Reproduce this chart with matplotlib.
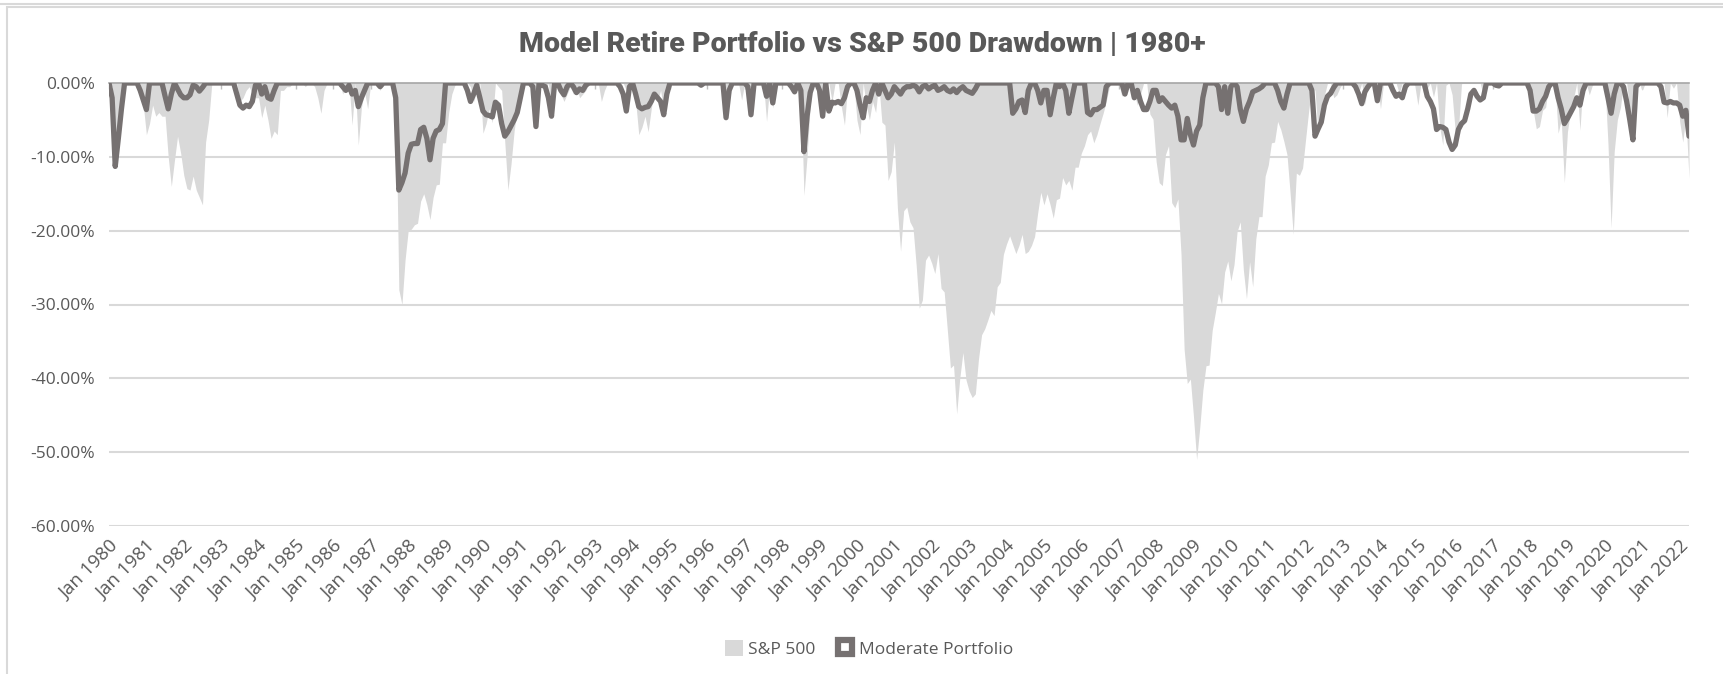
import numpy as np
import matplotlib
matplotlib.use("Agg")
from matplotlib import pyplot as plt
from matplotlib.lines import Line2D
from matplotlib.patches import Patch, Rectangle

# monthly drawdowns (%), Jan 1980 .. Apr 2022, one row per year
sp500_dd = [
    0, -0.5, -10.0, -6.5, -2.5, 0, 0, 0, 0, 0, 0, -3.0,                       # 1980
    -7.0, -5.5, -3.0, -4.5, -4.0, -4.5, -4.5, -10.0, -14.0, -10.5, -7.2, -9.5,  # 1981
    -12.5, -14.3, -14.5, -12.6, -14.5, -15.5, -16.5, -8.0, -5.0, 0, 0, 0,      # 1982
    0, 0, 0, 0, 0, 0, -2.5, -2.0, -1.0, -0.5, -1.5, -2.0,                      # 1983
    -2.0, -4.7, -3.0, -5.0, -7.5, -6.5, -7.0, -1.0, -1.0, -0.5, -0.5, 0,       # 1984
    0, 0, 0, -0.5, 0, 0, -0.5, -2.0, -4.1, -1.0, 0, 0,                         # 1985
    0, 0, 0, -1.5, 0, 0, -5.7, 0, -8.4, -3.3, -1.2, -3.5,                      # 1986
    0, 0, 0, -1.0, 0, 0, 0, 0, -1.5, -28.0, -30.0, -24.0,                      # 1987
    -20.0, -19.8, -19.2, -19.0, -16.0, -15.0, -16.5, -18.5, -15.5, -13.8, -13.7, -8.1,  # 1988
    -8.1, -4.0, -1.5, -0.3, 0, 0, 0, 0, -0.5, -2.5, -1.0, 0,                   # 1989
    -6.8, -5.5, -3.5, -5.4, 0, -0.5, -1.0, -8.0, -14.5, -11.0, -6.5, -3.5,     # 1990
    -1.0, 0, 0, 0, 0, -4.5, 0, 0, -1.0, 0, -4.0, 0,                            # 1991
    0, -1.5, -2.5, -1.5, -0.5, -1.5, -0.5, -2.0, -1.5, -1.0, 0, 0,             # 1992
    0, 0, -2.5, -1.0, 0, 0, 0, 0, 0, 0, -1.0, 0,                               # 1993
    0, -2.5, -7.0, -6.0, -4.5, -6.6, -3.5, -1.0, -2.5, -1.0, -3.5, -2.5,       # 1994
    0, 0, 0, 0, 0, 0, 0, 0, 0, 0, 0, 0,                                        # 1995
    0, 0, 0, 0, 0, -1.0, -4.7, -2.5, 0, 0, 0, -2.3,                            # 1996
    0, -0.5, -4.3, 0, 0, 0, 0, -5.2, -0.5, -3.4, 0, 0,                         # 1997
    0, 0, 0, 0, -1.5, 0, -1.0, -15.2, -10.0, -3.0, 0, 0,                       # 1998
    0, -3.0, 0, 0, -2.5, 0, 0, -3.2, -5.7, -0.5, 0, 0,                         # 1999
    -5.0, -7.0, 0, -3.0, -5.0, -2.5, -4.0, 0, -5.3, -5.7, -13.2, -12.0,        # 2000
    -8.0, -17.0, -22.8, -17.3, -16.8, -18.8, -19.6, -24.6, -30.5, -29.4, -24.0, -23.3,  # 2001
    -24.4, -25.8, -23.1, -27.8, -28.3, -33.4, -38.6, -38.2, -44.8, -40.0, -36.5, -40.2,  # 2002
    -41.7, -42.6, -42.1, -37.4, -34.1, -33.3, -32.1, -30.8, -31.5, -27.6, -27.0, -23.2,  # 2003
    -21.8, -20.7, -21.9, -23.1, -22.0, -20.5, -23.1, -22.8, -22.0, -20.8, -17.6, -14.8,  # 2004
    -16.5, -15.0, -16.5, -18.3, -15.8, -15.6, -12.8, -13.8, -13.2, -14.5, -11.4, -11.4,  # 2005
    -9.5, -8.5, -7.0, -6.5, -8.1, -7.0, -5.5, -4.1, -2.5, -0.5, 0, 0,          # 2006
    0, -1.8, -0.8, 0, 0, -1.5, -3.0, -1.5, 0, 0, -4.2, -4.9,                   # 2007
    -10.6, -13.5, -13.9, -9.7, -8.5, -16.2, -16.9, -15.7, -23.2, -36.1, -40.7, -40.1,  # 2008
    -45.2, -51.0, -46.7, -41.6, -38.3, -38.2, -33.5, -31.1, -28.5, -29.9, -25.6, -24.1,  # 2009
    -26.8, -24.6, -20.1, -18.8, -25.3, -29.2, -24.2, -27.6, -21.1, -18.1, -18.1, -12.6,  # 2010
    -11.1, -8.1, -8.0, -5.2, -6.3, -7.9, -9.7, -14.9, -20.5, -12.2, -12.5, -11.5,  # 2011
    -7.5, -3.6, -0.4, -1.0, -7.0, -3.2, -1.7, 0, 0, -2.0, -1.6, -0.6,          # 2012
    0, 0, 0, 0, 0, -1.3, 0, -2.9, 0, 0, 0, 0,                                  # 2013
    -3.5, 0, 0, 0, 0, 0, -1.4, 0, -1.4, 0, 0, -0.3,                            # 2014
    -3.0, 0, -1.6, -0.7, 0, -1.9, 0, -6.0, -8.4, -0.3, 0, -1.6,                # 2015
    -6.6, -6.4, -0.1, 0, 0, 0, 0, 0, 0, -1.8, 0, 0,                            # 2016
    0, 0, 0, 0, 0, 0, 0, 0, 0, 0, 0, 0,                                        # 2017
    0, -3.7, -6.2, -5.9, -3.7, -3.3, 0, 0, 0, -6.8, -5.0, -13.5,               # 2018
    -6.6, -3.7, -2.0, 0, -6.4, 0, 0, -1.6, -0.3, 0, 0, 0,                      # 2019
    0, -8.2, -19.6, -9.3, -5.0, -3.3, 0, 0, -3.8, -6.4, 0, 0,                  # 2020
    -1.0, 0, 0, 0, 0, 0, 0, 0, -4.7, 0, -0.7, 0,                               # 2021
    -5.2, -8.0, -4.6, -12.9,                                                   # 2022
]

moderate_dd = [
    0, -2.0, -11.3, -7.5, -3.5, 0, 0, 0, 0, 0, -1.0, -2.3,                     # 1980
    -3.6, 0, 0, 0, 0, 0, -1.8, -3.5, -1.5, 0, -0.8, -1.6,                      # 1981
    -2.0, -2.0, -1.6, -0.3, -0.5, -1.1, -0.6, 0, 0, 0, 0, 0,                   # 1982
    0, 0, 0, 0, 0, -1.5, -3.0, -3.4, -3.0, -3.2, -2.5, -0.3,                   # 1983
    0, -1.5, -0.5, -2.0, -2.2, -1.0, 0, 0, 0, 0, 0, 0,                         # 1984
    0, 0, 0, 0, 0, 0, 0, 0, 0, 0, 0, 0,                                        # 1985
    0, 0, 0, -0.5, -1.0, -0.3, -1.5, -1.0, -3.2, -2.0, -1.0, 0,                # 1986
    0, 0, 0, -0.5, 0, 0, 0, 0, -2.0, -14.5, -13.5, -12.2,                      # 1987
    -9.5, -8.3, -8.2, -8.2, -6.3, -6.0, -7.5, -10.4, -7.5, -6.5, -6.3, -5.5,   # 1988
    0, 0, 0, 0, 0, 0, 0, -1.0, -2.5, -1.5, -0.3, -2.0,                         # 1989
    -3.8, -4.3, -4.4, -4.6, -2.6, -3.0, -5.5, -7.2, -6.6, -5.8, -5.0, -4.0,    # 1990
    -2.0, 0, 0, 0, -0.5, -5.9, 0, -0.3, -0.5, -2.0, -4.5, 0,                   # 1991
    0, -1.0, -1.6, -0.5, 0, -0.5, -1.3, -0.8, -1.0, -0.3, 0, 0,                # 1992
    0, 0, 0, 0, 0, 0, 0, 0, -0.5, -1.5, -3.8, -0.5,                            # 1993
    0, -1.5, -3.2, -3.5, -3.3, -3.2, -2.5, -1.5, -2.0, -2.5, -4.3, -1.5,       # 1994
    0, 0, 0, 0, 0, 0, 0, 0, 0, 0, -0.3, 0,                                     # 1995
    0, 0, 0, 0, 0, 0, -4.7, -1.0, 0, 0, 0, 0,                                  # 1996
    0, -0.5, -4.3, 0, 0, 0, 0, -1.8, 0, -2.7, 0, 0,                            # 1997
    0, 0, 0, -0.5, -1.2, 0, -1.0, -9.3, -4.5, -1.3, 0, 0,                      # 1998
    -1.0, -4.5, 0, -3.8, -2.6, -2.7, -2.5, -2.8, -2.0, -0.5, 0, 0,             # 1999
    -1.0, -3.0, -4.7, -2.0, -2.5, -1.0, 0, -1.5, 0, -1.0, -2.0, -1.5,          # 2000
    -0.5, -1.0, -1.5, -0.8, -0.5, -0.5, -0.3, -0.5, -1.2, -0.5, -0.3, -0.8,    # 2001
    -0.5, -0.3, -1.0, -0.8, -0.5, -1.0, -1.2, -0.8, -1.3, -0.8, -0.5, -1.0,    # 2002
    -1.2, -1.4, -0.8, 0, 0, 0, 0, 0, 0, 0, 0, 0,                               # 2003
    0, 0, -4.1, -3.5, -2.5, -2.3, -4.0, -1.0, 0, 0, -1.0, -2.7,                # 2004
    -1.0, -1.0, -4.3, -2.0, 0, -0.5, 0, -1.0, -4.1, -2.0, 0, 0,                # 2005
    0, 0, -4.0, -4.3, -3.6, -3.6, -3.3, -3.0, -0.5, 0, 0, 0,                   # 2006
    0, 0, -1.5, 0, 0, -2.0, -1.0, -2.5, -3.6, -3.6, -2.5, -1.0,                # 2007
    -1.0, -2.5, -2.0, -2.5, -3.0, -3.4, -3.0, -4.5, -7.7, -7.7, -4.8, -7.0,    # 2008
    -8.4, -6.5, -5.7, -2.0, 0, 0, 0, 0, -0.5, -3.6, -0.5, -4.1,                # 2009
    -0.5, 0, -0.5, -3.5, -5.2, -3.5, -2.5, -1.2, -1.0, -0.8, -0.5, 0,          # 2010
    0, 0, 0, -1.0, -2.5, -3.4, -1.5, 0, 0, 0, 0, 0,                            # 2011
    0, 0, -1.0, -7.2, -6.2, -5.3, -3.0, -1.8, -1.4, -0.6, 0, 0,                # 2012
    0, 0, 0, 0, -0.5, -1.5, -2.8, -1.2, -0.5, 0, 0, -2.4,                      # 2013
    0, 0, 0, 0, -1.0, -1.8, -1.5, -2.0, -0.5, 0, 0, 0,                         # 2014
    0, 0, 0, -1.8, -2.5, -3.5, -6.3, -5.9, -6.0, -6.3, -8.0, -9.0,             # 2015
    -8.4, -6.3, -5.5, -5.1, -3.5, -1.5, -1.0, -1.8, -2.3, -2.0, 0, 0,          # 2016
    0, -0.3, -0.4, 0, 0, 0, 0, 0, 0, 0, 0, 0,                                  # 2017
    -1.0, -3.8, -3.8, -3.5, -2.5, -1.8, -0.5, 0, 0, -2.0, -3.5, -5.5,          # 2018
    -4.8, -4.0, -3.2, -2.0, -3.0, -1.0, 0, 0, 0, 0, 0, 0,                      # 2019
    0, -2.0, -4.1, -1.5, 0, 0, -0.5, -2.5, -5.0, -7.7, -0.5, 0,                # 2020
    0, 0, 0, 0, 0, 0, -0.5, -2.6, -2.7, -2.5, -2.7, -2.7,                      # 2021
    -3.0, -4.5, -3.7, -7.2,                                                    # 2022
]

years = list(range(1980, 2023))
tick_labels = [f"Jan {y}" for y in years]
y_ticks = [0, -10, -20, -30, -40, -50, -60]

sp_color = "#D9D9D9"
port_color = "#767171"
text_color = "#595959"

x = np.arange(len(sp500_dd))

fig = plt.figure(figsize=(17.24, 6.74), dpi=100)
# chart frame
fig.add_artist(Line2D([0, 1], [1 - 3.5 / 674, 1 - 3.5 / 674], color="#D9D9D9", lw=1.5))
fig.add_artist(Rectangle((7 / 1724, -0.1), 1.2, 1.1 - 7.5 / 674, transform=fig.transFigure,
                         fill=False, edgecolor="#D9D9D9", lw=1.5))

ax = fig.add_axes([109 / 1724, 1 - 526 / 674, (1689 - 109) / 1724, (526 - 83) / 674])

ax.fill_between(x, sp500_dd, 0, color=sp_color, lw=0, zorder=1)
ax.plot(x, moderate_dd, color=port_color, lw=3.8, solid_joinstyle="round",
        solid_capstyle="round", zorder=3)

ax.set_xlim(0, len(x) - 1)
ax.set_ylim(-60, 0)
ax.set_yticks(y_ticks)
ax.set_yticklabels([f"{v:.2f}%" for v in y_ticks], fontsize=12.5, color=text_color,
                   family="Open Sans")
ax.yaxis.grid(True, color="#D9D9D9", lw=1.5, zorder=0)
ax.set_axisbelow(True)

ax.set_xticks(np.arange(0, len(x), 12))
ax.set_xticklabels(tick_labels, rotation=45, ha="right", va="top",
                   rotation_mode="anchor", fontsize=13.5, color=text_color,
                   family="Open Sans")
ax.xaxis.set_tick_params(which="major", top=True, bottom=False, labelbottom=True,
                         direction="in", length=4, width=1, color="#BFBFBF", pad=8)
ax.tick_params(axis="y", length=0, pad=10)

for side in ["left", "right", "bottom"]:
    ax.spines[side].set_visible(False)
ax.spines["top"].set_color("#A6A6A6")
ax.spines["top"].set_linewidth(1.2)
ax.spines["top"].set_zorder(2)

fig.text(0.5, 1 - 44 / 674, "Model Retire Portfolio vs S&P 500 Drawdown | 1980+",
         ha="center", va="center", fontsize=20.5, fontweight="heavy",
         color=text_color, family="Roboto")

handles = [Patch(facecolor=sp_color, edgecolor="none", label="S&P 500"),
           Line2D([], [], marker="s", linestyle="None", markersize=10,
                  markerfacecolor="white", markeredgecolor=port_color,
                  markeredgewidth=4.5, label="Moderate Portfolio")]
fig.legend(handles=handles, loc="center", bbox_to_anchor=(869 / 1724, 1 - 649 / 674),
           ncol=2, frameon=False, handlelength=1.0, handleheight=1.0,
           handletextpad=0.3, columnspacing=1.2, labelcolor=text_color,
           prop={"family": "Open Sans", "size": 12.5})

fig.savefig("out.png", dpi=100)
